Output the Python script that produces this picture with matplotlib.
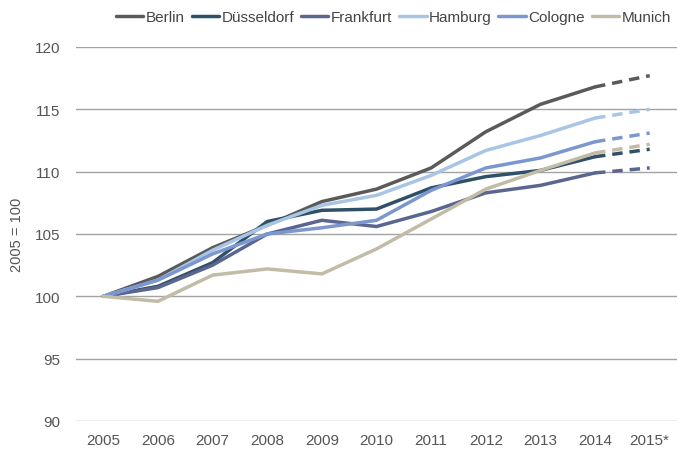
import matplotlib
matplotlib.use("Agg")
import matplotlib.pyplot as plt

plt.rcParams['font.family'] = ['Liberation Sans', 'DejaVu Sans']

years = ["2005", "2006", "2007", "2008", "2009", "2010",
         "2011", "2012", "2013", "2014", "2015*"]

# index values, 2005 = 100 (2015 is a forecast)
berlin     = [100, 101.6, 103.9, 105.7, 107.6, 108.6, 110.3, 113.2, 115.4, 116.8, 117.7]
duesseldorf = [100, 100.8, 102.7, 106.0, 106.9, 107.0, 108.7, 109.6, 110.1, 111.2, 111.8]
frankfurt  = [100, 100.7, 102.5, 105.0, 106.1, 105.6, 106.8, 108.3, 108.9, 109.9, 110.3]
hamburg    = [100, 101.3, 103.7, 105.7, 107.3, 108.1, 109.7, 111.7, 112.9, 114.3, 115.0]
cologne    = [100, 101.3, 103.4, 105.0, 105.5, 106.1, 108.5, 110.3, 111.1, 112.4, 113.1]
munich     = [100, 99.6, 101.7, 102.2, 101.8, 103.8, 106.2, 108.6, 110.1, 111.5, 112.2]

cities = ["Berlin", "Düsseldorf", "Frankfurt", "Hamburg", "Cologne", "Munich"]
series = [berlin, duesseldorf, frankfurt, hamburg, cologne, munich]
colors = ["#5a5a5a", "#2f5066", "#5b6690", "#a8c5e5", "#7c96cf", "#c2bba7"]

fig = plt.figure(figsize=(6.78, 4.52), dpi=100)
ax = fig.add_axes([76 / 678, 30 / 452, 601 / 678, 374 / 452])

x = list(range(len(years)))
for name, vals, c in zip(cities, series, colors):
    ax.plot(x[:-1], vals[:-1], color=c, lw=2.5, label=name,
            solid_capstyle='round', solid_joinstyle='round')
    ax.plot(x[-2:], vals[-2:], color=c, lw=2.5, dashes=(3, 2))

ax.set_xlim(-0.5, len(years) - 0.5)
ax.set_ylim(90, 120)
ax.set_yticks(range(90, 121, 5))
ax.set_xticks(x)
ax.set_xticklabels(years)
ax.yaxis.grid(True, color="#a3a3a3", lw=1)
ax.set_axisbelow(True)
for s in ax.spines.values():
    s.set_visible(False)
ax.tick_params(length=0, labelsize=11, labelcolor="#555555")
ax.tick_params(axis='y', pad=11)
ax.tick_params(axis='x', pad=9)
ax.set_ylabel("2005 = 100", fontsize=10.5, color="#555555", labelpad=8)

leg = ax.legend(loc='lower right', bbox_to_anchor=(1.0, 1.045), ncol=6,
                frameon=False, fontsize=11, handlelength=1.8,
                handletextpad=0.15, columnspacing=0.45, borderaxespad=0)
for t in leg.get_texts():
    t.set_color("#444444")

fig.savefig("out.png", dpi=100)
